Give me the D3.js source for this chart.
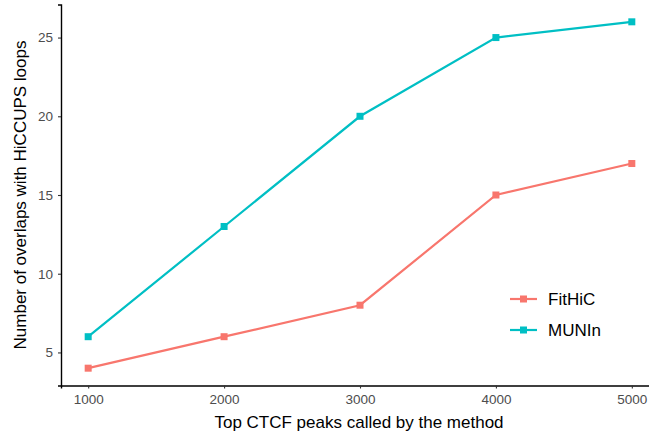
<!DOCTYPE html>
<html>
<head>
<meta charset="utf-8">
<script src="https://cdn.jsdelivr.net/npm/d3@7"></script>
<style>
  html, body { margin: 0; padding: 0; background: #fff; }
  svg { display: block; font-family: "Liberation Sans", Arial, sans-serif; }
</style>
</head>
<body>
<svg id="chart" width="649" height="437"></svg>
<script>
// Number of top CTCF peaks considered
const peaks = [1000, 2000, 3000, 4000, 5000];
// Overlaps with HiCCUPS loops per method
const fithic = [4, 6, 8, 15, 17];
const munin = [6, 13, 20, 25, 26];
const seriesNames = ["FitHiC", "MUNIn"];
const seriesColors = ["#F8766D", "#00BFC4"];
const yTicks = [5, 10, 15, 20, 25];

const svg = d3.select("#chart");

// Panel with ggplot-style 5% expansion on both axes
const panel = { left: 61, right: 659, top: 4.5, bottom: 385.5 };
const xPad = (d3.max(peaks) - d3.min(peaks)) * 0.05;
const allY = fithic.concat(munin);
const yPad = (d3.max(allY) - d3.min(allY)) * 0.05;

const x = d3.scaleLinear()
  .domain([d3.min(peaks) - xPad, d3.max(peaks) + xPad])
  .range([panel.left, panel.right]);
const y = d3.scaleLinear()
  .domain([d3.min(allY) - yPad, d3.max(allY) + yPad])
  .range([panel.bottom, panel.top]);

// Axes
const xAxis = svg.append("g")
  .attr("transform", `translate(0,${panel.bottom})`)
  .call(d3.axisBottom(x).tickValues(peaks).tickSize(3).tickPadding(6).tickFormat(d3.format("d")));
const yAxis = svg.append("g")
  .attr("transform", `translate(${panel.left},0)`)
  .call(d3.axisLeft(y).tickValues(yTicks).tickSize(3).tickPadding(5));

[xAxis, yAxis].forEach(g => {
  g.select(".domain").attr("stroke", "#000").attr("stroke-width", 1.4);
  g.selectAll(".tick line").attr("stroke", "#333").attr("stroke-width", 1.1);
  g.selectAll(".tick text")
    .attr("fill", "#4D4D4D")
    .style("font-size", "13.5px")
    .style("font-family", "'Liberation Sans', Arial, sans-serif");
});

// Axis titles
svg.append("text")
  .attr("x", (panel.left + panel.right) / 2 - 1)
  .attr("y", 428)
  .attr("text-anchor", "middle")
  .style("font-size", "17px")
  .attr("fill", "#000")
  .text("Top CTCF peaks called by the method");

svg.append("text")
  .attr("transform", `translate(26,${(panel.top + panel.bottom) / 2}) rotate(-90)`)
  .attr("text-anchor", "middle")
  .style("font-size", "17px")
  .attr("fill", "#000")
  .text("Number of overlaps with HiCCUPS loops");

// Lines and square markers
const data = [fithic, munin];
const line = d3.line().x((d, i) => x(peaks[i])).y(d => y(d));

data.forEach((vals, s) => {
  svg.append("path")
    .datum(vals)
    .attr("fill", "none")
    .attr("stroke", seriesColors[s])
    .attr("stroke-width", 2.2)
    .attr("d", line);
  svg.selectAll(null)
    .data(vals)
    .enter()
    .append("rect")
    .attr("x", (d, i) => x(peaks[i]) - 3.5)
    .attr("y", d => y(d) - 3.5)
    .attr("width", 7)
    .attr("height", 7)
    .attr("fill", seriesColors[s]);
});

// Legend
const legend = svg.append("g").attr("transform", "translate(510,299)");
seriesNames.forEach((name, s) => {
  const g = legend.append("g").attr("transform", `translate(0,${s * 31})`);
  g.append("line")
    .attr("x1", 0).attr("x2", 27)
    .attr("stroke", seriesColors[s]).attr("stroke-width", 2.2);
  g.append("rect")
    .attr("x", 10).attr("y", -3.5).attr("width", 7).attr("height", 7)
    .attr("fill", seriesColors[s]);
  g.append("text")
    .attr("x", 38).attr("y", 6)
    .style("font-size", "17px")
    .attr("fill", "#000")
    .text(name);
});
</script>
</body>
</html>
